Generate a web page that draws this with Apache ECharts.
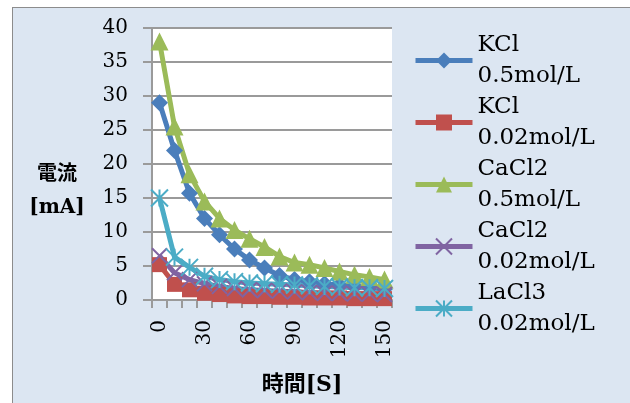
<!DOCTYPE html>
<html>
<head>
<meta charset="utf-8">
<script src="https://cdn.jsdelivr.net/npm/echarts@6/dist/echarts.min.js"></script>
<style>
  html, body { margin: 0; padding: 0; background: #fff; }
  #frame { position: absolute; left: 12px; top: 7px; width: 640px; height: 420px;
           background: #dce6f2; border: 1px solid #8c8c8c; }
  #chart { position: absolute; left: 0; top: 0; width: 630px; height: 403px; }
</style>
</head>
<body>
<div id="frame"></div>
<div id="chart"></div>
<script>
// 時間 [S]
var times = ['0', '10', '20', '30', '40', '50', '60', '70', '80', '90', '100', '110', '120', '130', '140', '150'];
// 電流 [mA]
var kcl05   = [29, 22, 15.7, 12, 9.6, 7.5, 5.9, 4.7, 3.6, 3.0, 2.7, 2.4, 2.2, 2.0, 1.8, 1.6];
var kcl002  = [5.2, 2.3, 1.5, 1.0, 0.8, 0.6, 0.5, 0.5, 0.4, 0.4, 0.3, 0.3, 0.3, 0.2, 0.2, 0.2];
var cacl05  = [38, 25.5, 18.5, 14.5, 12, 10.3, 9, 7.8, 6.4, 5.5, 5.2, 4.7, 4.2, 3.7, 3.4, 3.0];
var cacl002 = [6.5, 4, 3, 2.4, 2, 1.7, 1.5, 1.4, 1.3, 1.2, 1.1, 1.0, 1.0, 0.9, 0.9, 0.8];
var lacl3   = [15, 6.3, 4.8, 3.5, 3.0, 2.7, 2.5, 2.4, 2.3, 2.2, 2.1, 2.0, 1.9, 1.8, 1.8, 1.7];

var serifFont = "'DejaVu Serif', 'Noto Sans CJK JP', serif";
var gridGray = '#9a9a9a';

var myChart = echarts.init(document.getElementById('chart'));

function makeSeries(name, data, color, symbol, size, stroke) {
    return {
        name: name,
        type: 'line',
        data: data,
        symbol: symbol,
        symbolSize: size,
        showAllSymbol: true,
        lineStyle: { color: color, width: 5 },
        itemStyle: {
            color: color,
            borderColor: color,
            borderWidth: stroke ? 2 : 0
        }
    };
}

var xPath = 'path://M0 0 L10 10 M10 0 L0 10';
var starPath = 'path://M0 0 L10 10 M10 0 L0 10 M5 0 L5 10';

option = {
    animation: false,
    textStyle: { fontFamily: serifFont },
    grid: {
        left: 152, right: 238, top: 28, bottom: 103,
        show: true,
        backgroundColor: '#ffffff',
        borderWidth: 0,
        containLabel: false,
        outerBoundsMode: 'none'
    },
    legend: {
        orient: 'vertical',
        left: 413,
        top: 14,
        padding: 0,
        itemWidth: 57,
        itemHeight: 20,
        itemGap: -31,
        lineStyle: { width: 5 },
        textStyle: {
            fontFamily: serifFont,
            fontSize: 23,
            lineHeight: 31,
            color: '#000',
            padding: [31, 0, 0, 0]
        }
    },
    xAxis: {
        type: 'category',
        data: times,
        boundaryGap: true,
        name: '時間[S]',
        nameLocation: 'middle',
        nameGap: 74,
        nameTextStyle: {
            fontFamily: serifFont, fontSize: 22, fontWeight: 'bold', color: '#000',
            padding: [0, 0, 0, 60]
        },
        axisLine: { lineStyle: { color: gridGray, width: 2 } },
        axisTick: { show: true, interval: 0, length: 8, lineStyle: { color: gridGray, width: 2 } },
        axisLabel: {
            interval: 2, rotate: 90, margin: 20,
            fontFamily: serifFont, fontSize: 20, color: '#000'
        },
        splitLine: { show: false }
    },
    yAxis: {
        type: 'value',
        min: 0, max: 40, interval: 5,
        name: '{s| }\n電流\n[mA]',
        nameLocation: 'middle',
        nameRotate: 0,
        nameGap: 95,
        nameTextStyle: {
            fontFamily: serifFont, fontSize: 20, fontWeight: 'bold', color: '#000',
            align: 'center', verticalAlign: 'middle', lineHeight: 33,
            rich: { s: { fontSize: 10, lineHeight: 54 } }
        },
        axisLine: { show: true, lineStyle: { color: gridGray, width: 2 } },
        axisTick: { show: true, length: 9, lineStyle: { color: gridGray, width: 2 } },
        axisLabel: { margin: 24, fontFamily: serifFont, fontSize: 20, color: '#000' },
        splitLine: { show: true, lineStyle: { color: gridGray, width: 2 } }
    },
    series: [
        makeSeries('KCl\n0.5mol/L', kcl05, '#4a7ebb', 'diamond', 17, false),
        makeSeries('KCl\n0.02mol/L', kcl002, '#c0504d', 'rect', 15, false),
        makeSeries('CaCl2\n0.5mol/L', cacl05, '#9bbb59', 'triangle', 18, false),
        makeSeries('CaCl2\n0.02mol/L', cacl002, '#8064a2', xPath, 15, true),
        makeSeries('LaCl3\n0.02mol/L', lacl3, '#4bacc6', starPath, 17, true)
    ]
};

myChart.setOption(option);
</script>
</body>
</html>
